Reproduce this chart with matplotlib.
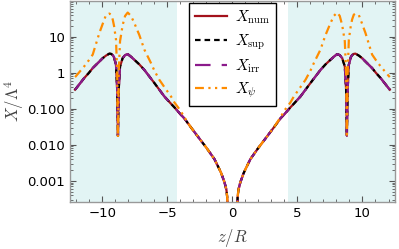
import matplotlib
matplotlib.use('Agg')
import matplotlib.pyplot as plt
from matplotlib.ticker import LogLocator, MultipleLocator, FixedLocator, NullFormatter

plt.rcParams['mathtext.fontset'] = 'cm'
plt.rcParams['font.family'] = 'DejaVu Sans'

# positions along the axis (z/R)
z_vals = [-12.1, -12.04, -11.4, -11.05, -10.74, -10.23, -9.97, -9.72, -9.46, -9.33, -9.2,
          -9.1, -8.95, -8.86, -8.8, -8.74, -8.64, -8.44, -8.25, -8.05, -7.8,
          -7.54, -7.15, -6.77, -6.26, -6.0, -5.62, -5.23, -4.72, -4.46, -4.0,
          -3.69, -3.23, -2.7, -2.0, -1.38, -1.0, -0.85, -0.6, -0.46, -0.4, -0.34,
          0.34, 0.4, 0.46, 0.6, 0.85, 1.0, 1.38, 2.0, 2.7, 3.23, 3.69,
          4.0, 4.46, 4.72, 5.23, 5.62, 6.0, 6.26, 6.77, 7.15, 7.54,
          7.8, 8.05, 8.25, 8.44, 8.64, 8.74, 8.8, 8.86, 8.95, 9.1,
          9.2, 9.33, 9.46, 9.72, 9.97, 10.23, 10.74, 11.05, 11.4, 12.04, 12.1]

x_num = [0.34, 0.36, 0.71, 0.98, 1.35, 2.05, 2.55, 3.0, 3.4, 3.35, 3.1,
         2.7, 1.67, 0.35, 0.018, 0.35, 1.5, 2.55, 3.1, 3.3, 2.8,
         2.3, 1.7, 1.2, 0.69, 0.52, 0.34, 0.22, 0.138, 0.11, 0.071,
         0.054, 0.032, 0.0178, 8.3e-3, 4.0e-3, 2.1e-3, 1.6e-3, 8.9e-4, 5.6e-4, 3.5e-4, 1e-4,
         1e-4, 3.5e-4, 5.6e-4, 8.9e-4, 1.6e-3, 2.1e-3, 4.0e-3, 8.3e-3, 0.0178, 0.032, 0.054,
         0.071, 0.11, 0.138, 0.22, 0.34, 0.52, 0.69, 1.2, 1.7, 2.3,
         2.8, 3.3, 3.1, 2.55, 1.5, 0.35, 0.018, 0.35, 1.67, 2.7,
         3.1, 3.35, 3.4, 3.0, 2.55, 2.05, 1.35, 0.98, 0.71, 0.36, 0.34]

x_sup = list(x_num)
x_irr = list(x_num)

x_psi = [0.76, 0.8, 1.5, 2.2, 3.2, 12.7, 23.0, 40.0, 44.0, 41.0, 30.0,
         20.0, 8.3, 1.0, 0.016, 1.0, 7.5, 21.0, 38.0, 47.0, 38.0,
         24.0, 11.0, 4.4, 1.86, 1.15, 0.64, 0.4, 0.22, 0.15, 0.09,
         0.058, 0.032, 0.0178, 8.3e-3, 4.0e-3, 2.1e-3, 1.6e-3, 8.9e-4, 5.6e-4, 3.5e-4, 1e-4,
         1e-4, 3.5e-4, 5.6e-4, 8.9e-4, 1.6e-3, 2.1e-3, 4.0e-3, 8.3e-3, 0.0178, 0.032, 0.058,
         0.09, 0.15, 0.22, 0.4, 0.64, 1.15, 1.86, 4.4, 11.0, 24.0,
         38.0, 47.0, 38.0, 21.0, 7.5, 1.0, 0.016, 1.0, 8.3, 20.0,
         30.0, 41.0, 44.0, 40.0, 23.0, 12.7, 3.2, 2.2, 1.5, 0.8, 0.76]

shade_edges = [-12.5, -4.25, 4.25, 12.5]

fig = plt.figure(figsize=(3.99, 2.49), dpi=100)
ax = fig.add_axes([0.175, 0.189, 0.815, 0.808])

ax.axvspan(shade_edges[0], shade_edges[1], color='#e2f4f4', lw=0, zorder=0)
ax.axvspan(shade_edges[2], shade_edges[3], color='#e2f4f4', lw=0, zorder=0)

ax.plot(z_vals, x_num, color='#a3111b', lw=1.6, label=r'$X_{\rm num}$', zorder=2)
ax.plot(z_vals, x_sup, color='black', lw=1.6, ls=(0, (2.5, 1.8)), label=r'$X_{\rm sup}$', zorder=3)
ax.plot(z_vals, x_irr, color='#8b1a8b', lw=1.6, ls=(0, (7, 5)), label=r'$X_{\rm irr}$', zorder=4)
ax.plot(z_vals, x_psi, color='#ff8c00', lw=1.6, ls=(0, (4, 2, 1, 2, 1, 2)), label=r'$X_{\psi}$', zorder=5)

ax.set_yscale('log')
ax.set_xlim(-12.5, 12.5)
ax.set_ylim(2.6e-4, 100)

ax.yaxis.set_major_locator(FixedLocator([0.001, 0.01, 0.1, 1, 10]))
ax.set_yticklabels(['0.001', '0.010', '0.100', '1', '10'])
ax.yaxis.set_minor_locator(LogLocator(base=10, subs=range(2, 10)))
ax.yaxis.set_minor_formatter(NullFormatter())
ax.set_xticks([-10, -5, 0, 5, 10])
ax.set_xticklabels(['\u221210', '\u22125', '0', '5', '10'])
ax.xaxis.set_minor_locator(MultipleLocator(1))

for side in ['left', 'right', 'top', 'bottom']:
    ax.spines[side].set_color('#999999')
    ax.spines[side].set_linewidth(1.0)
ax.tick_params(which='both', direction='in', top=True, right=True, color='#555555',
               labelsize=9.5, labelcolor='black')
ax.tick_params(which='major', length=4, width=0.8)
ax.tick_params(which='minor', length=2.2, width=0.6)

ax.set_xlabel(r'$z/R$', fontsize=12, color='#444444', labelpad=5)
ax.set_ylabel(r'$X/\Lambda^4$', fontsize=12, color='#444444', labelpad=1)

leg = ax.legend(loc='upper left', bbox_to_anchor=(0.367, 0.987), borderaxespad=0,
                fontsize=11, handlelength=2.1, labelspacing=0.38, borderpad=0.35,
                handletextpad=0.55, fancybox=False, framealpha=1.0, edgecolor='black')
leg.get_frame().set_linewidth(1.0)

fig.savefig('out.png', dpi=100)
